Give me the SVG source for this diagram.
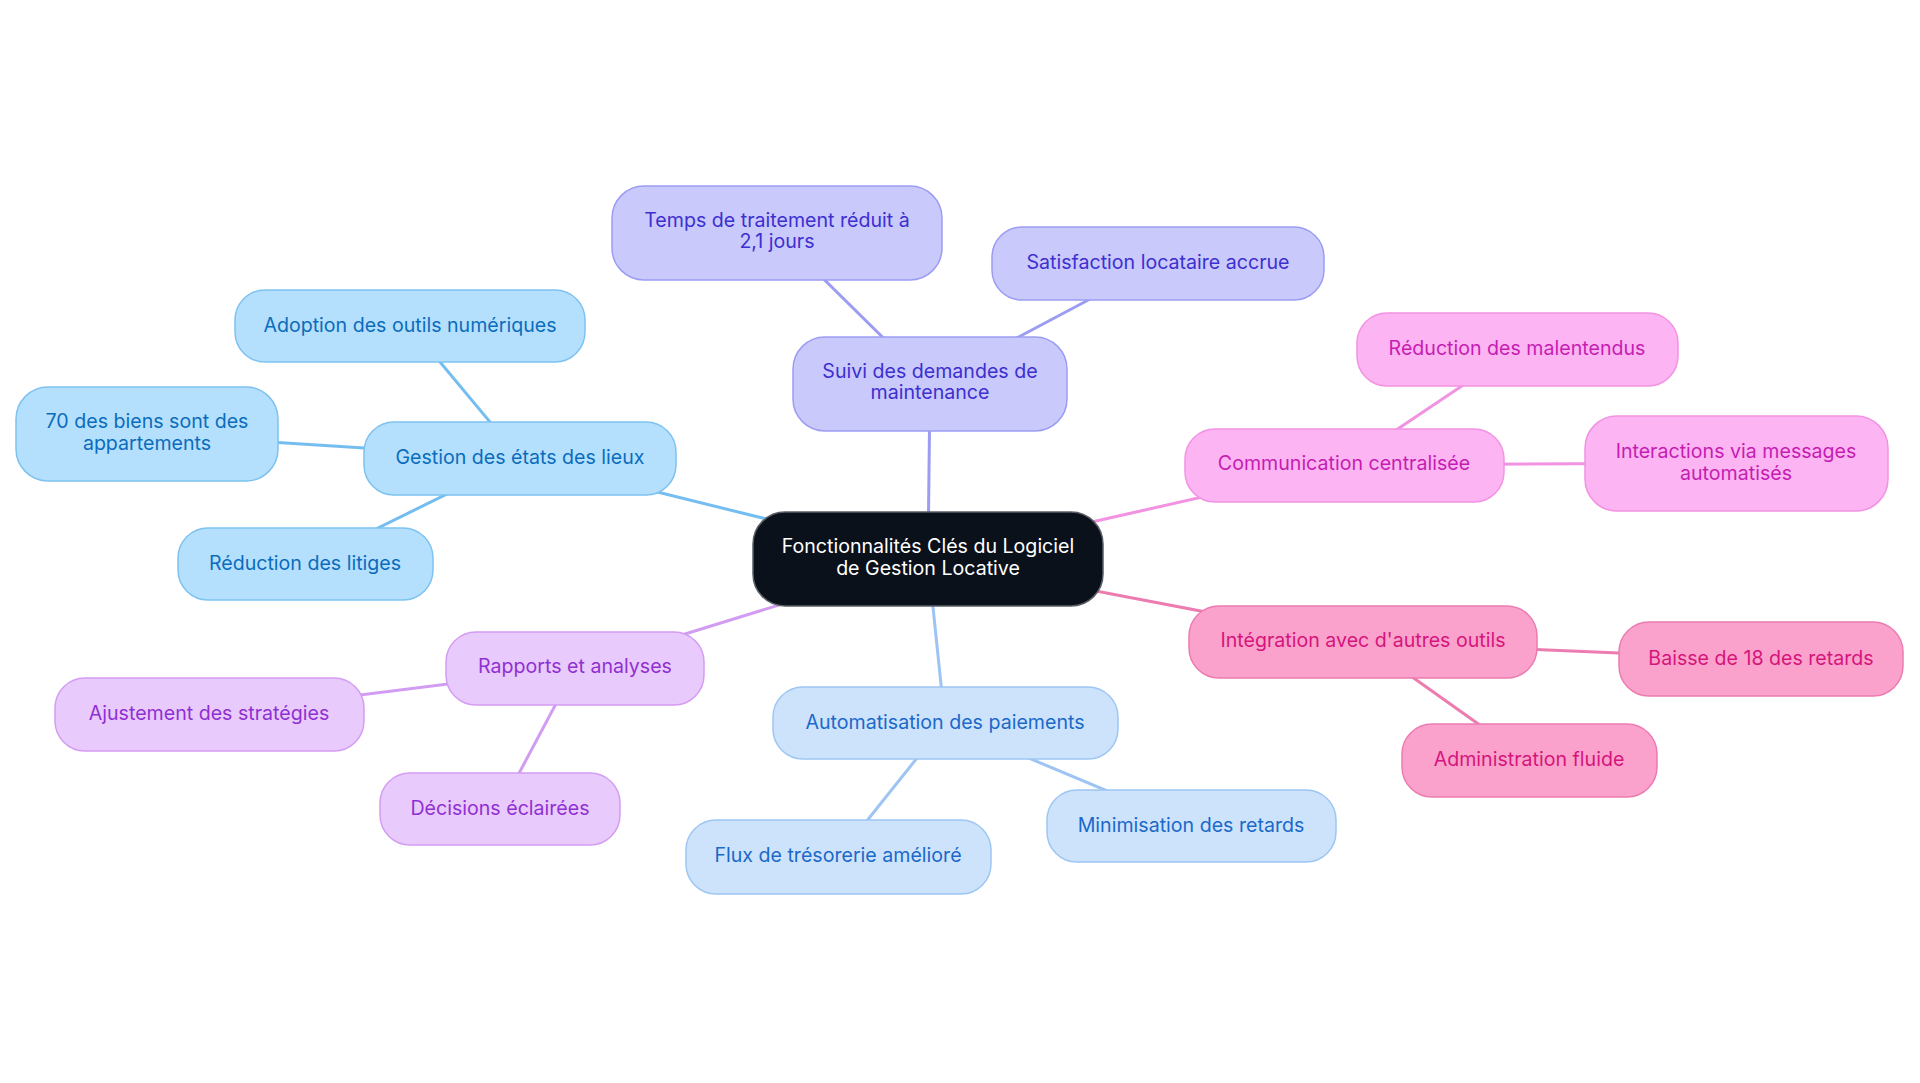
<svg xmlns="http://www.w3.org/2000/svg" width="1920" height="1083" viewBox="0 0 1920 1083">
<style>
text{font-family:Inter,"Noto Sans","Liberation Sans",sans-serif;font-size:19.6px;text-anchor:middle}
.n rect{stroke-width:1.5}
.c0 rect{fill:#0b111b;stroke:#5a5f66}.c0 text{fill:#ffffff}
.c1 rect{fill:#c9c9fc;stroke:#9c9df2}.c1 text{fill:#3d2fd0}
.c2 rect{fill:#b4e0fd;stroke:#7ec2f0}.c2 text{fill:#0c6cbc}
.c3 rect{fill:#fdb4f3;stroke:#f292e2}.c3 text{fill:#c51db2}
.c4 rect{fill:#fba2cc;stroke:#ec7cb0}.c4 text{fill:#d5157c}
.c5 rect{fill:#cde3fb;stroke:#9dc6f2}.c5 text{fill:#1b69c9}
.c6 rect{fill:#e8cafc;stroke:#d49cf2}.c6 text{fill:#9030d2}
#edges line{stroke-width:3;fill:none}
.e1{stroke:#9c9df2}.e2{stroke:#74bdf0}.e3{stroke:#f292e2}.e4{stroke:#ec7cb0}.e5{stroke:#9dc4f2}.e6{stroke:#d29cf2}
</style>
<rect width="1920" height="1083" fill="#ffffff"/>
<g id="edges">
<line class="e2" x1="928" y1="559" x2="520" y2="458"/>
<line class="e1" x1="928" y1="559" x2="930" y2="384"/>
<line class="e3" x1="928" y1="559" x2="1344" y2="465"/>
<line class="e4" x1="928" y1="559" x2="1363" y2="642"/>
<line class="e5" x1="928" y1="559" x2="945" y2="723"/>
<line class="e6" x1="928" y1="559" x2="575" y2="668"/>
<line class="e1" x1="930" y1="384" x2="777" y2="233"/>
<line class="e1" x1="930" y1="384" x2="1158" y2="263"/>
<line class="e2" x1="520" y1="458" x2="410" y2="326"/>
<line class="e2" x1="520" y1="458" x2="147" y2="434"/>
<line class="e2" x1="520" y1="458" x2="305" y2="564"/>
<line class="e3" x1="1344" y1="465" x2="1517" y2="349"/>
<line class="e3" x1="1344" y1="465" x2="1736" y2="463"/>
<line class="e4" x1="1363" y1="642" x2="1761" y2="659"/>
<line class="e4" x1="1363" y1="642" x2="1529" y2="760"/>
<line class="e5" x1="945" y1="723" x2="838" y2="857"/>
<line class="e5" x1="945" y1="723" x2="1191" y2="826"/>
<line class="e6" x1="575" y1="668" x2="209" y2="714"/>
<line class="e6" x1="575" y1="668" x2="500" y2="809"/>
</g>
<g id="root" class="n c0"><rect x="753" y="512" width="350" height="94" rx="32"/><text x="928" y="553">Fonctionnalités Clés du Logiciel</text><text x="928" y="575">de Gestion Locative</text></g>
<g id="suivi" class="n c1"><rect x="793" y="337" width="274" height="94" rx="32"/><text x="930" y="378">Suivi des demandes de</text><text x="930" y="399">maintenance</text></g>
<g id="temps" class="n c1"><rect x="612" y="186" width="330" height="94" rx="32"/><text x="777" y="227">Temps de traitement réduit à</text><text x="777" y="248">2,1 jours</text></g>
<g id="satisfaction" class="n c1"><rect x="992" y="227" width="332" height="73" rx="30"/><text x="1158" y="269">Satisfaction locataire accrue</text></g>
<g id="gestion" class="n c2"><rect x="364" y="422" width="312" height="73" rx="30"/><text x="520" y="464">Gestion des états des lieux</text></g>
<g id="adoption" class="n c2"><rect x="235" y="290" width="350" height="72" rx="30"/><text x="410" y="332">Adoption des outils numériques</text></g>
<g id="biens" class="n c2"><rect x="16" y="387" width="262" height="94" rx="32"/><text x="147" y="428">70 des biens sont des</text><text x="147" y="450">appartements</text></g>
<g id="litiges" class="n c2"><rect x="178" y="528" width="255" height="72" rx="30"/><text x="305" y="570">Réduction des litiges</text></g>
<g id="communication" class="n c3"><rect x="1185" y="429" width="319" height="73" rx="30"/><text x="1344" y="470">Communication centralisée</text></g>
<g id="malentendus" class="n c3"><rect x="1357" y="313" width="321" height="73" rx="30"/><text x="1517" y="355">Réduction des malentendus</text></g>
<g id="interactions" class="n c3"><rect x="1585" y="416" width="303" height="95" rx="32"/><text x="1736" y="458">Interactions via messages</text><text x="1736" y="480">automatisés</text></g>
<g id="integration" class="n c4"><rect x="1189" y="606" width="348" height="72" rx="30"/><text x="1363" y="647">Intégration avec d'autres outils</text></g>
<g id="baisse" class="n c4"><rect x="1619" y="622" width="284" height="74" rx="30"/><text x="1761" y="665">Baisse de 18 des retards</text></g>
<g id="administration" class="n c4"><rect x="1402" y="724" width="255" height="73" rx="30"/><text x="1529" y="766">Administration fluide</text></g>
<g id="automatisation" class="n c5"><rect x="773" y="687" width="345" height="72" rx="30"/><text x="945" y="729">Automatisation des paiements</text></g>
<g id="flux" class="n c5"><rect x="686" y="820" width="305" height="74" rx="30"/><text x="838" y="862">Flux de trésorerie amélioré</text></g>
<g id="minimisation" class="n c5"><rect x="1047" y="790" width="289" height="72" rx="30"/><text x="1191" y="832">Minimisation des retards</text></g>
<g id="rapports" class="n c6"><rect x="446" y="632" width="258" height="73" rx="30"/><text x="575" y="673">Rapports et analyses</text></g>
<g id="ajustement" class="n c6"><rect x="55" y="678" width="309" height="73" rx="30"/><text x="209" y="720">Ajustement des stratégies</text></g>
<g id="decisions" class="n c6"><rect x="380" y="773" width="240" height="72" rx="30"/><text x="500" y="815">Décisions éclairées</text></g>
</svg>
